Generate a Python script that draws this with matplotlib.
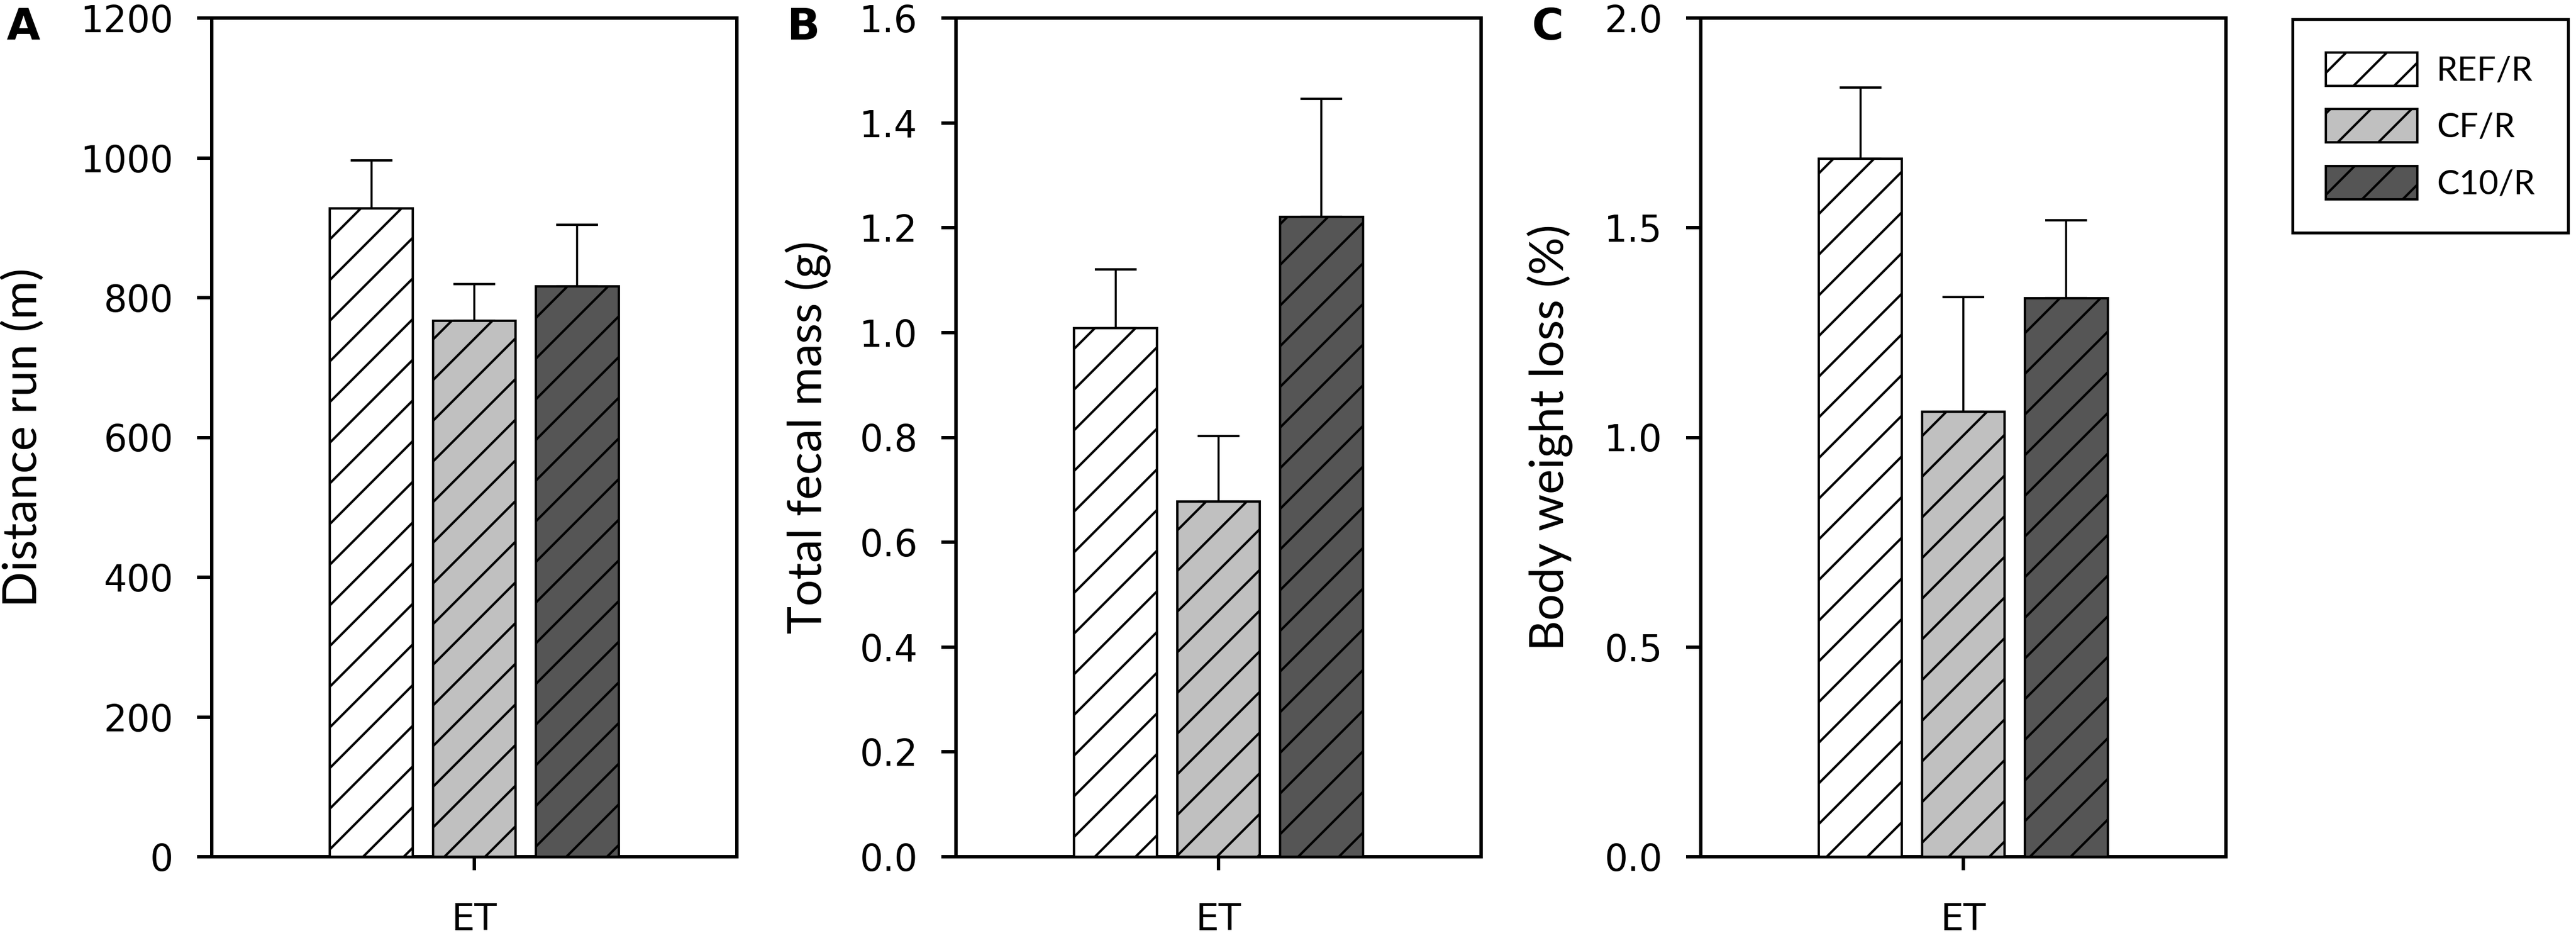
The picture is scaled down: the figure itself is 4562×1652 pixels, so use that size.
import matplotlib
matplotlib.use("Agg")
import matplotlib.pyplot as plt
import numpy as np
from matplotlib.patches import Patch

groups = ["REF/R", "CF/R", "C10/R"]
colors = ["#ffffff", "#c0c0c0", "#555555"]

dist_mean = [928, 767, 816]
dist_err = [68, 52, 88]

fecal_mean = [1.008, 0.678, 1.221]
fecal_err = [0.113, 0.125, 0.225]

bw_mean = [1.665, 1.061, 1.332]
bw_err = [0.170, 0.274, 0.186]

ylabels = ["Distance run (m)", "Total fecal mass (g)", "Body weight loss (%)"]
panel_letters = ["A", "B", "C"]
xcat = "ET"
yticks = [np.arange(0, 1201, 200), np.arange(0, 1.61, 0.2), np.arange(0, 2.01, 0.5)]
ylims = [(0, 1200), (0, 1.6), (0, 2.0)]
yfmt = ["{:.0f}", "{:.1f}", "{:.1f}"]

W, H, DPI = 4562, 1652, 432
plt.rcParams['hatch.linewidth'] = 0.7
fig = plt.figure(figsize=(W / DPI, H / DPI), dpi=DPI)

lefts = [375, 1693, 3012]
ax_w = 930
bottom_px, top_px = 1517, 32
label_x = [-0.316, -0.238, -0.243]
letter_x = [12, 1394, 2712]

offsets = [-0.392, 0.0, 0.392]
bw = 0.316
HATCH = "//"

data = [(dist_mean, dist_err), (fecal_mean, fecal_err), (bw_mean, bw_err)]
for i, (means, errs) in enumerate(data):
    ax = fig.add_axes([lefts[i] / W, 1 - bottom_px / H, ax_w / W, (bottom_px - top_px) / H])
    for j in range(3):
        ax.bar(offsets[j], means[j], width=bw, color=colors[j], edgecolor="black",
               linewidth=0.7, hatch=HATCH, zorder=3)
        ax.errorbar(offsets[j], means[j], yerr=[[0], [errs[j]]], fmt="none",
                    ecolor="black", elinewidth=0.6, capsize=6.2, capthick=0.7, zorder=2)
    ax.set_xlim(-1, 1)
    ax.set_ylim(*ylims[i])
    ax.set_yticks(yticks[i])
    ax.set_yticklabels([yfmt[i].format(v) for v in yticks[i]], family="DejaVu Sans", fontsize=10.8)
    ax.set_xticks([0])
    ax.set_xticklabels([xcat], family="DejaVu Sans", fontsize=10.8)
    ax.tick_params(axis="y", direction="out", length=4.3, width=1.0, pad=7, right=False)
    ax.tick_params(axis="x", direction="out", length=4.0, width=1.0, pad=9.3, top=False)
    for s in ax.spines.values():
        s.set_linewidth(1.0)
    ax.set_ylabel(ylabels[i], family="Lato", fontsize=13.9)
    ax.yaxis.set_label_coords(label_x[i], 0.5)
    fig.text(letter_x[i] / W, 1 - 12 / H, panel_letters[i], family="DejaVu Sans",
             fontweight="bold", fontsize=12.8, ha="left", va="top")

handles = [Patch(facecolor=colors[j], edgecolor="black", linewidth=0.7, hatch=HATCH, label=groups[j])
           for j in range(3)]
leg = fig.legend(handles=handles, loc="upper right", bbox_to_anchor=(4548 / W, 1 - 34 / H),
                 prop={"family": "Lato", "size": 10.0}, frameon=True, fancybox=False,
                 edgecolor="black", framealpha=1, handlelength=2.7, handleheight=1.13,
                 handletextpad=0.57, labelspacing=0.68, borderpad=0.98, borderaxespad=0)
leg.get_frame().set_linewidth(0.85)

fig.savefig("out.png", dpi=DPI)
